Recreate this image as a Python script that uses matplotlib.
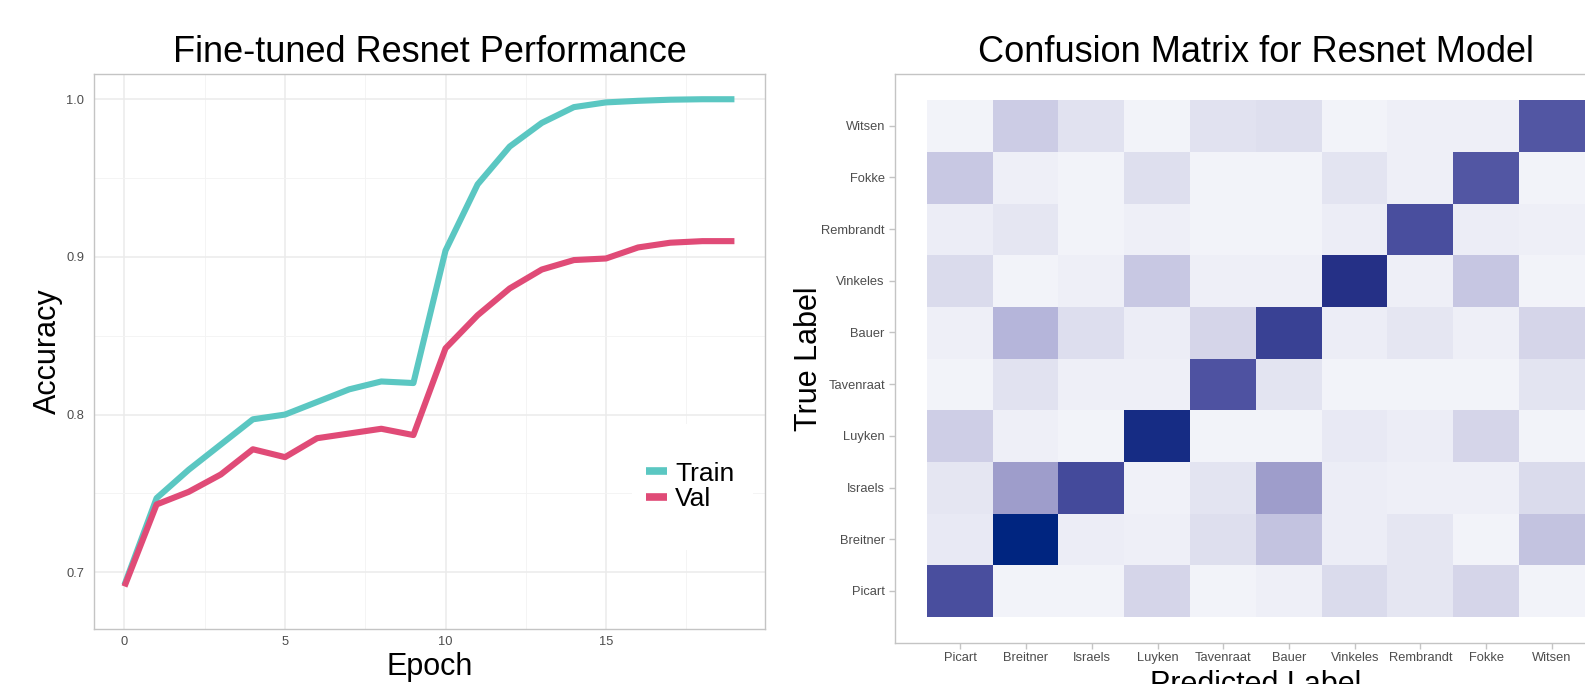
"""
Resnet fine-tuning results: accuracy curves and confusion matrix, side by side.
"""

import numpy as np
import matplotlib
matplotlib.use('Agg')
import matplotlib.pyplot as plt
from matplotlib.colors import LinearSegmentedColormap
from matplotlib.patches import Rectangle
from matplotlib.ticker import MultipleLocator

plt.rcParams['font.family'] = ['Liberation Sans', 'DejaVu Sans']

# ---- data -------------------------------------------------------------
epochs = list(range(20))
train_acc = [0.692, 0.747, 0.765, 0.781, 0.797, 0.800, 0.808, 0.816, 0.821, 0.820,
             0.904, 0.946, 0.970, 0.985, 0.995, 0.998, 0.999, 0.9997, 1.000, 1.000]
val_acc = [0.691, 0.743, 0.751, 0.762, 0.778, 0.773, 0.785, 0.788, 0.791, 0.787,
           0.842, 0.863, 0.880, 0.892, 0.898, 0.899, 0.906, 0.909, 0.910, 0.910]

artists = ['Picart', 'Breitner', 'Israels', 'Luyken', 'Tavenraat',
           'Bauer', 'Vinkeles', 'Rembrandt', 'Fokke', 'Witsen']

# rows = true label (same order as artists), columns = predicted label, in %
conf_pct = [
    [78, 2, 2, 16, 2, 4, 13, 8, 16, 2],      # Picart
    [7, 100, 5, 4, 11, 24, 5, 8, 2, 24],     # Breitner
    [8, 40, 80, 3, 9, 40, 5, 4, 4, 13],      # Israels
    [19, 4, 2, 95, 2, 2, 7, 5, 16, 2],       # Luyken
    [2, 10, 4, 4, 76, 9, 2, 2, 2, 9],        # Tavenraat
    [4, 30, 12, 5, 16, 84, 5, 8, 4, 16],     # Bauer
    [13, 2, 4, 22, 4, 4, 92, 4, 23, 2],      # Vinkeles
    [5, 8, 2, 4, 2, 2, 5, 78, 5, 4],         # Rembrandt
    [22, 4, 2, 11, 2, 2, 9, 4, 74, 2],       # Fokke
    [2, 20, 10, 2, 10, 11, 2, 4, 4, 74],     # Witsen
]

TRAIN_COLOR = '#5BC7C2'
VAL_COLOR = '#E04B77'
BORDER = '#C4C4C4'
TICK_TEXT = '#4D4D4D'

fig = plt.figure(figsize=(15.85, 6.84), dpi=100)

# ---- left: accuracy curves -------------------------------------------
ax = fig.add_axes([0.0593, 0.0804, 0.4233, 0.8114])
ax.plot(epochs, train_acc, color=TRAIN_COLOR, linewidth=4.4, label='Train',
        solid_capstyle='butt', zorder=3)
ax.plot(epochs, val_acc, color=VAL_COLOR, linewidth=4.4, label='Val',
        solid_capstyle='butt', zorder=4)
ax.set_xlim(-0.95, 19.95)
ax.set_ylim(0.664, 1.016)
ax.xaxis.set_major_locator(MultipleLocator(5))
ax.xaxis.set_minor_locator(MultipleLocator(2.5))
ax.yaxis.set_major_locator(MultipleLocator(0.1))
ax.yaxis.set_minor_locator(MultipleLocator(0.05))
ax.set_yticks([0.7, 0.8, 0.9, 1.0])
ax.set_yticklabels(['0.7', '0.8', '0.9', '1.0'])
ax.grid(True, which='major', color='#EBEBEB', linewidth=1.1)
ax.grid(True, which='minor', color='#F3F3F3', linewidth=0.6)
ax.set_axisbelow(True)
ax.tick_params(which='both', length=0, labelsize=9.3, labelcolor=TICK_TEXT)
ax.tick_params(axis='y', pad=7)
ax.tick_params(axis='x', pad=5)
for s in ax.spines.values():
    s.set_color(BORDER)
    s.set_linewidth(1.0)

ax.set_title('Fine-tuned Resnet Performance', fontsize=26, pad=9)
ax.set_xlabel('Epoch', fontsize=22, va='center')
ax.xaxis.set_label_coords(0.5, -0.068)
ax.set_ylabel('Accuracy', fontsize=22, va='center')
ax.yaxis.set_label_coords(-0.069, 0.5)

# white legend background that hides the grid, like ggplot's legend box
ax.add_patch(Rectangle((0.802, 0.142), 0.180, 0.227, transform=ax.transAxes,
                       facecolor='white', edgecolor='none', zorder=2))
leg = ax.legend(loc='center', bbox_to_anchor=(0.889, 0.257), fontsize=19,
                frameon=False, handlelength=0.8, handletextpad=0.3,
                labelspacing=0.05, borderpad=0.2)
for h in leg.get_lines():
    h.set_linewidth(5.5)

# ---- right: confusion matrix -----------------------------------------
cmap = LinearSegmentedColormap.from_list('cm_blue', [
    (0.00, '#F7F8FC'),
    (0.10, '#E1E2F0'),
    (0.22, '#C8C8E3'),
    (0.30, '#B5B5DA'),
    (0.40, '#9E9DCB'),
    (0.78, '#4A4F9F'),
    (0.92, '#263187'),
    (1.00, '#002580'),
])

n = len(artists)
bx = fig.add_axes([0.5644, 0.0604, 0.4562, 0.8314])
bx.imshow(np.array(conf_pct), cmap=cmap, vmin=0, vmax=100, origin='lower',
          aspect='auto', interpolation='nearest',
          extent=(-0.5, n - 0.5, -0.5, n - 0.5))
bx.set_xlim(-1, n)
bx.set_ylim(-1, n)
bx.set_xticks(range(n))
bx.set_xticklabels(artists)
bx.set_yticks(range(n))
bx.set_yticklabels(artists)
bx.tick_params(length=4, width=1, color=BORDER, labelsize=9.3,
               labelcolor=TICK_TEXT, pad=3)
for s in bx.spines.values():
    s.set_color(BORDER)
    s.set_linewidth(1.0)

bx.set_title('Confusion Matrix for Resnet Model', fontsize=26, pad=9)
bx.set_xlabel('Predicted Label', fontsize=22, va='center')
bx.xaxis.set_label_coords(0.5, -0.075)
bx.set_ylabel('True Label', fontsize=22, va='center')
bx.yaxis.set_label_coords(-0.119, 0.5)

fig.savefig('out.png', dpi=100)
